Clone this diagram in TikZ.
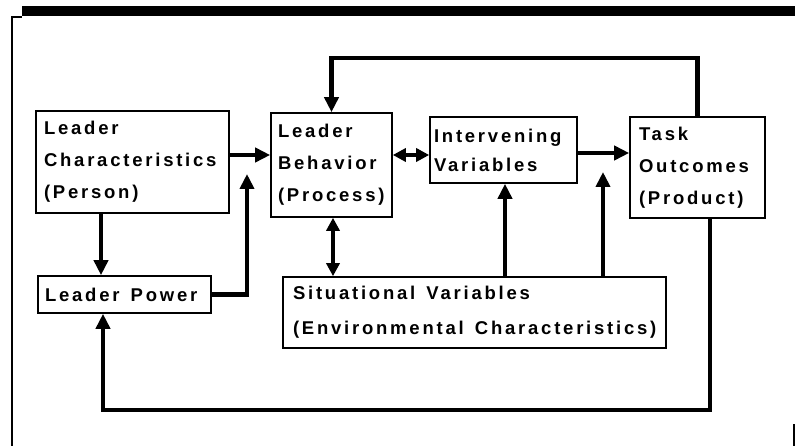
\documentclass[tikz,border=0pt]{standalone}
\usepackage{fontspec}
\setmainfont{Liberation Sans}[LetterSpace=15]
\usetikzlibrary{arrows.meta,calc}
\newcommand{\boxfont}[1]{\fontsize{18.5}{#1}\bfseries\selectfont}
\newcommand{\wsp}{\hspace{5pt}}
\tikzset{
  box/.style={draw, line width=1.6pt, rectangle, inner sep=0pt, align=left,
    font=\boxfont{32}},
  conn/.style={line width=4.5pt},
  arr/.style={conn, -{Triangle[length=15pt,width=14pt]}},
  darr/.style={conn, {Triangle[length=13pt,width=13pt]}-{Triangle[length=13pt,width=13pt]}},
  frame/.style={line width=1.2pt}
}
\begin{document}
\begin{tikzpicture}[x=1pt,y=-1pt]
\useasboundingbox (0,0) rectangle (795,446);
% frame
\fill (22,6) rectangle (795,16);
\draw[frame] (12,446) -- (12,17) -- (22,17);
\draw[frame] (794,424) -- (794,446);
% boxes
\node[box, minimum width=193pt, minimum height=102pt, text width=177pt] (LC) at (132.5,162) {Leader\\Characteristics\\(Person)};
\node[box, minimum width=121pt, minimum height=104pt, text width=107pt] (LB) at (331.5,165) {Leader\\Behavior\\(Process)};
\node[box, minimum width=147pt, minimum height=66pt, text width=139pt, font=\boxfont{29}] (IV) at (503.5,150) {Intervening\\Variables};
\node[box, minimum width=135pt, minimum height=101pt, text width=117pt] (TO) at (697.5,167.5) {Task\\Outcomes\\(Product)};
\node[box, minimum width=173pt, minimum height=37pt, text width=159pt] (LP) at (124.5,294.5) {Leader\wsp{} Power};
\node[box, minimum width=383pt, minimum height=71pt, text width=363pt, font=\boxfont{35}] (SV) at (474.5,312.5) {Situational\wsp{} Variables\\(Environmental\wsp{} Characteristics)};
% helper coordinates
\coordinate (ytop) at (0,58);
\coordinate (y155) at (0,155);
\coordinate (y153) at (0,153);
\coordinate (x101) at (101,0);
\coordinate (x333) at (333,0);
\coordinate (x505) at (505,0);
\coordinate (x710) at (710,0);
\coordinate (lpend) at (247,174);
\coordinate (svend) at (603,172);
\coordinate (b1) at (710,410);
\coordinate (b2) at (103,410);
% connectors
\draw[arr] (TO.north) -- (TO.north |- ytop) -| (LB.north);
\draw[arr] (LC.east |- y155) -- (LB.west |- y155);
\draw[arr] (LC.south -| x101) -- (LP.north -| x101);
\draw[arr] (LP.east) -| (lpend);
\draw[darr] (LB.east |- y155) -- (IV.west |- y155);
\draw[arr] (IV.east |- y153) -- (TO.west |- y153);
\draw[darr] (LB.south -| x333) -- (SV.north -| x333);
\draw[arr] (SV.north -| x505) -- (IV.south -| x505);
\draw[arr] (SV.north -| svend) -- (svend);
\draw[arr] (TO.south -| x710) -- (b1) -- (b2) -- (LP.south -| b2);
\end{tikzpicture}
\end{document}
